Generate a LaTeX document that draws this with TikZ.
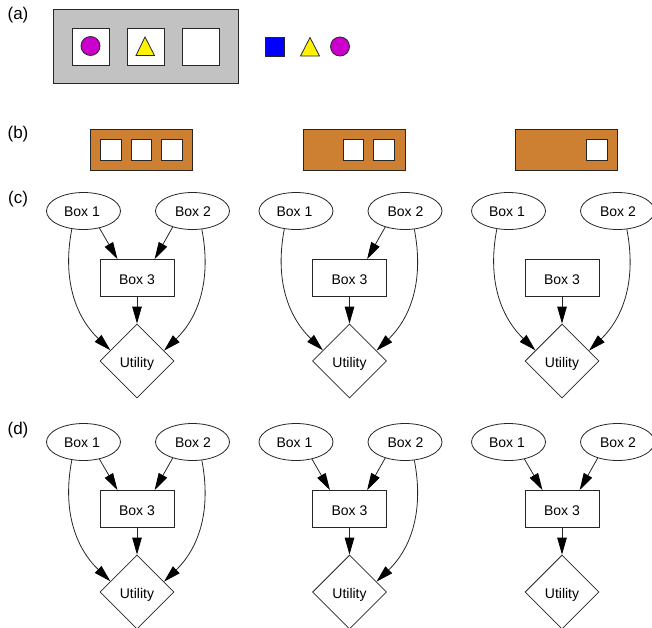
\documentclass[tikz,border=0pt]{standalone}
\usepackage{fontspec}
\setmainfont{Liberation Sans}
\usetikzlibrary{arrows.meta,shapes.geometric}
\definecolor{boxgray}{HTML}{C2C2C2}
\definecolor{boxbrown}{HTML}{CD7F32}
\definecolor{ballmag}{HTML}{CC00CC}
\tikzset{
  ln/.style={draw=black!85,line width=0.8pt},
  oval/.style={ln,ellipse,minimum width=74pt,minimum height=37pt,inner sep=0pt,text height=10.5pt,text depth=0pt,font=\fontsize{14}{16}\selectfont},
  rect/.style={ln,rectangle,minimum width=74pt,minimum height=37pt,inner sep=0pt,text height=12pt,text depth=0pt,font=\fontsize{14}{16}\selectfont},
  util/.style={ln,diamond,minimum width=74pt,minimum height=74pt,inner sep=0pt,text height=12.5pt,text depth=0pt,font=\fontsize{14}{16}\selectfont},
  edge/.style={ln,-{Triangle[length=17pt,width=9.5pt,black]},shorten >=0pt},
  panel/.style={font=\fontsize{17}{19}\selectfont,inner sep=0pt},
  slot/.style={ln,fill=white,rectangle,inner sep=0pt},
  frameA/.style={ln,fill=boxgray,rectangle,inner sep=0pt,minimum width=185.5pt,minimum height=73.5pt},
  frameB/.style={ln,fill=boxbrown,rectangle,inner sep=0pt,minimum width=102pt,minimum height=40.5pt},
  slotA/.style={slot,minimum width=37pt,minimum height=37pt},
  slotB/.style={slot,minimum width=20.5pt,minimum height=20.5pt},
  ball/.style={ln,circle,fill=ballmag,minimum size=19pt,inner sep=0pt},
  tri/.style={ln,fill=yellow},
  blue box/.style={ln,rectangle,fill=blue,minimum size=19pt,inner sep=0pt},
}
\newcommand{\nets}[3]{%
  \node[oval] (#1a) at (#2-53.5,#3) {Box 1\kern3pt};
  \node[oval] (#1b) at (#2+55.5,#3) {\kern1pt Box 2};
  \node[rect] (#1c) at (#2,#3+67) {Box 3};
  \node[util] (#1u) at (#2,#3+150) {Utility};
}
\newcommand{\eac}[1]{\draw[edge] (#1a.-47.5) -- (#1c.136);}
\newcommand{\ebc}[1]{\draw[edge] (#1b.-141) -- (#1c.47.5);}
\newcommand{\eau}[1]{\draw[edge] (#1a.-123) to[out=-101,in=136] (#1u.158);}
\newcommand{\ebu}[1]{\draw[edge] (#1b.-63) to[out=-79,in=44] (#1u.21);}
\newcommand{\ecu}[1]{\draw[edge] (#1c) -- (#1u);}
\begin{document}
\begin{tikzpicture}[x=1pt,y=-1pt]
\useasboundingbox (0,0) rectangle (652,627);
\clip (0,0) rectangle (652,627);
\node[panel] (la) at (18,15) {(a)};
\node[panel] (lb) at (18,134) {(b)};
\node[panel] (lc) at (18,199) {(c)};
\node[panel] (ld) at (18,430) {(d)};
% (a)
\node[frameA] (fa) at (145.75,46.25) {};
\node[slotA] (s1) at (90.5,46.5) {};
\node[slotA] (s2) at (145.5,46.5) {};
\node[slotA] (s3) at (201,46.5) {};
\node[ball] (c1) at (90.5,46) {};
\draw[tri] (145,37) -- (154.5,55.5) -- (136,55.5) -- cycle;
\node[blue box] (sq) at (275,46.5) {};
\draw[tri] (310,37.5) -- (319.5,56) -- (300.5,56) -- cycle;
\node[ball] (c2) at (340,46.5) {};
% (b)
\node[frameB] (b1) at (141.5,150) {};
\node[slotB] (b1x) at (110.75,150) {};
\node[slotB] (b1y) at (141.25,150) {};
\node[slotB] (b1z) at (171.75,150) {};
\node[frameB] (b2) at (354,150) {};
\node[slotB] (b2y) at (353.5,150) {};
\node[slotB] (b2z) at (384,150) {};
\node[frameB] (b3) at (566,150) {};
\node[slotB] (b3z) at (597,150) {};
% (c)
\nets{p}{137}{211}
\eac{p}\ebc{p}\eau{p}\ebu{p}\ecu{p}
\nets{q}{349.5}{211}
\ebc{q}\eau{q}\ebu{q}\ecu{q}
\nets{r}{562}{211}
\eau{r}\ebu{r}\ecu{r}
% (d)
\nets{s}{137}{442}
\eac{s}\ebc{s}\eau{s}\ebu{s}\ecu{s}
\nets{t}{349.5}{442}
\eac{t}\ebc{t}\ebu{t}\ecu{t}
\nets{v}{562}{442}
\eac{v}\ebc{v}\ecu{v}
\end{tikzpicture}
\end{document}
